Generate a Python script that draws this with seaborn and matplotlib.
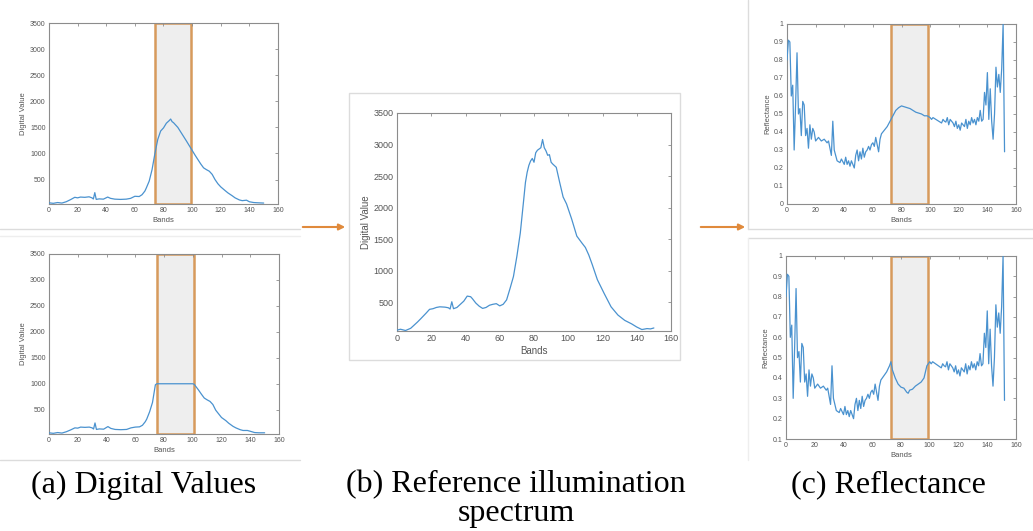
import numpy as np
import pandas as pd
import matplotlib
matplotlib.use("Agg")
import matplotlib.pyplot as plt
import seaborn as sns
from matplotlib.lines import Line2D
from matplotlib.patches import Rectangle

# ---------------- data ----------------
ref_bands = [0, 2, 5, 8, 10, 12, 14, 17, 19, 21, 23, 25, 28, 30, 31, 32, 33, 35, 37, 39,
             41, 43, 44, 46, 48, 50, 52, 54, 56, 58, 60, 62, 64, 66, 68, 70, 72, 74, 75, 76,
             77, 78, 79, 80, 81, 82, 83, 84, 85, 86, 87, 88, 89, 90, 91, 93, 95, 97, 99, 102,
             105, 108, 110, 112, 114, 117, 121, 125, 129, 133, 137, 140, 143, 146, 148, 150]
ref_values = [60, 75, 55, 90, 140, 190, 245, 330, 390, 400, 420, 430, 425, 415, 395, 510, 400, 420, 470, 520,
              600, 590, 560, 490, 440, 405, 420, 455, 470, 480, 445, 470, 540, 720, 910, 1230, 1600, 2130, 2400, 2560,
              2670, 2740, 2780, 2720, 2870, 2910, 2930, 2950, 3080, 2950, 2900, 2830, 2840, 2720, 2690, 2640, 2400, 2170, 2060, 1820,
              1550, 1440, 1370, 1250, 1100, 860, 640, 430, 300, 215, 160, 110, 70, 85, 80, 95]

dv_top_bands = [0, 3, 6, 9, 12, 15, 18, 20, 22, 25, 28, 30, 31, 32, 33, 35, 38, 41, 43, 46,
                50, 54, 57, 60, 63, 65, 67, 68, 70, 72, 74, 76, 78, 80, 82, 84, 85, 86, 87, 88,
                90, 93, 96, 100, 102, 104, 106, 108, 110, 112, 114, 116, 118, 120, 123, 125, 128, 130, 133, 135,
                138, 140, 143, 146, 150]
dv_top_values = [55, 45, 60, 50, 75, 115, 160, 150, 165, 160, 170, 150, 128, 250, 120, 130, 125, 165, 140, 125,
                 120, 125, 140, 180, 175, 210, 280, 340, 470, 690, 1000, 1270, 1430, 1490, 1580, 1630, 1660, 1610, 1590, 1560,
                 1500, 1370, 1240, 1060, 970, 885, 800, 725, 690, 660, 600, 500, 420, 360, 290, 245, 190, 150, 110, 96,
                 105, 75, 60, 55, 50]

dv_bot_bands = [0, 3, 6, 9, 12, 15, 18, 20, 22, 25, 28, 30, 31, 32, 33, 35, 38, 41, 43, 46,
                50, 54, 57, 60, 63, 65, 67, 68, 70, 72, 74, 75, 100, 101, 104, 106, 108, 110, 112, 114,
                116, 118, 120, 123, 125, 128, 130, 133, 135, 138, 140, 143, 146, 150]
dv_bot_values = [55, 45, 60, 50, 75, 110, 150, 145, 165, 160, 165, 150, 128, 245, 120, 130, 125, 175, 140, 120,
                 115, 120, 150, 165, 170, 200, 270, 320, 460, 640, 980, 1000, 1000, 990, 880, 800, 725, 690, 660, 600,
                 490, 420, 350, 290, 240, 180, 150, 115, 100, 100, 85, 60, 55, 55]

refl_top_bands = list(range(0, 20)) + [20, 22, 24, 26, 28, 29, 31, 32, 33, 35, 37, 38] + list(range(40, 69)) + \
                 [70, 72, 74, 76, 78, 80, 82, 84, 86, 88, 90, 92, 94, 96, 98, 100] + list(range(101, 153))
refl_top_values = [0.80, 0.91, 0.90, 0.60, 0.66, 0.30, 0.55, 0.84, 0.50, 0.53,
                   0.38, 0.57, 0.55, 0.38, 0.42, 0.31, 0.44, 0.36, 0.42, 0.40,
                   0.35, 0.37, 0.35, 0.36, 0.34, 0.35, 0.27, 0.46, 0.30, 0.24, 0.23, 0.25,
                   0.22, 0.26, 0.22, 0.24, 0.21, 0.24, 0.22, 0.20, 0.27, 0.30,
                   0.24, 0.29, 0.25, 0.31, 0.26, 0.29, 0.30, 0.32, 0.30, 0.33,
                   0.34, 0.32, 0.37, 0.33, 0.29, 0.36, 0.39, 0.40, 0.41,
                   0.43, 0.46, 0.49, 0.52, 0.535, 0.545, 0.54, 0.535, 0.53, 0.52, 0.51, 0.505, 0.50, 0.49, 0.49, 0.48,
                   0.47, 0.48, 0.475, 0.47, 0.465, 0.46, 0.455, 0.45, 0.47, 0.46,
                   0.455, 0.48, 0.44, 0.47, 0.46, 0.45, 0.43, 0.46, 0.42, 0.44,
                   0.41, 0.45, 0.44, 0.43, 0.47, 0.42, 0.46, 0.44, 0.48, 0.45,
                   0.47, 0.44, 0.48, 0.46, 0.52, 0.46, 0.47, 0.62, 0.55, 0.73,
                   0.47, 0.64, 0.46, 0.36, 0.50, 0.76, 0.65, 0.72, 0.62, 0.75,
                   1.00, 0.29]

refl_bot_bands = list(range(0, 20)) + [20, 22, 24, 26, 28, 29, 31, 32, 33, 35, 37, 38] + list(range(40, 69)) + \
                 [70, 72, 73, 74, 76, 78, 80, 82, 84, 85, 86, 88, 90, 92, 94, 96, 97, 98, 99, 100] + list(range(101, 153))
refl_bot_values = refl_top_values[:61] + \
                  [0.43, 0.46, 0.48, 0.44, 0.40, 0.37, 0.355, 0.35, 0.33, 0.325, 0.34, 0.345, 0.36, 0.37, 0.38, 0.40,
                   0.43, 0.46, 0.47, 0.48] + refl_top_values[77:]

x_ticks = [0, 20, 40, 60, 80, 100, 120, 140, 160]
dv_ticks = [500, 1000, 1500, 2000, 2500, 3000, 3500]
refl_top_ticks = [0, 0.1, 0.2, 0.3, 0.4, 0.5, 0.6, 0.7, 0.8, 0.9, 1]
refl_top_labels = ["0", "0.1", "0.2", "0.3", "0.4", "0.5", "0.6", "0.7", "0.8", "0.9", "1"]
refl_bot_ticks = [0.1, 0.2, 0.3, 0.4, 0.5, 0.6, 0.7, 0.8, 0.9, 1]
refl_bot_labels = ["0.1", "0.2", "0.3", "0.4", "0.5", "0.6", "0.7", "0.8", "0.9", "1"]

captions = ["(a) Digital Values", "(b) Reference illumination\nspectrum", "(c) Reflectance"]

# ---------------- styling ----------------
sns.set_style("white")
plt.rcParams["font.family"] = ["Liberation Sans", "DejaVu Sans"]

W, H = 1033, 531
fig = plt.figure(figsize=(W / 100, H / 100), dpi=100)
fig.patch.set_facecolor("white")

LINE = "#4a92cf"
BOX_EDGE = "#d79a5c"
BOX_FILL = "#eeeeee"
SPINE = "#8c8c8c"
TXT = "#555555"
FRAME = "#dcdcdc"
ARROW = "#e08a3c"


def rect(l, t, r, b):
    return [l / W, 1 - b / H, (r - l) / W, (b - t) / H]


def style_axes(ax, fs, ylab, yticks, ylabels, ylim):
    ax.set_xlim(0, 160)
    ax.set_ylim(*ylim)
    ax.set_xticks(x_ticks)
    ax.set_xticklabels([str(v) for v in x_ticks])
    ax.set_yticks(yticks)
    ax.set_yticklabels(ylabels)
    ax.tick_params(direction="in", top=True, right=True, length=2.5, width=0.6,
                   color=SPINE, labelsize=fs, labelcolor=TXT, pad=2.5)
    for s in ax.spines.values():
        s.set_color(SPINE)
        s.set_linewidth(0.8)
    ax.set_xlabel("Bands", fontsize=fs + 0.5, color=TXT, labelpad=1.5)
    ax.set_ylabel(ylab, fontsize=fs + 0.5, color=TXT, labelpad=2)
    ax.set_facecolor("white")


def draw(ax, bands, values, span):
    if span is not None:
        ax.axvspan(span[0], span[1], facecolor=BOX_FILL, edgecolor=BOX_EDGE, lw=1.8, zorder=0.5)
    df = pd.DataFrame({"Bands": bands, "v": values})
    sns.lineplot(data=df, x="Bands", y="v", ax=ax, color=LINE, lw=0.9, zorder=3)


# left top
ax1 = fig.add_axes(rect(49, 23, 278, 204))
draw(ax1, dv_top_bands, dv_top_values, (74, 99.5))
style_axes(ax1, 5, "Digital Value", dv_ticks, [str(v) for v in dv_ticks], (32, 3500))

# left bottom
ax2 = fig.add_axes(rect(49, 254, 279, 434))
draw(ax2, dv_bot_bands, dv_bot_values, (75, 100.8))
style_axes(ax2, 5, "Digital Value", dv_ticks, [str(v) for v in dv_ticks], (32, 3500))

# center
ax3 = fig.add_axes(rect(397, 113, 671, 331))
draw(ax3, ref_bands, ref_values, None)
style_axes(ax3, 6.5, "Digital Value", dv_ticks, [str(v) for v in dv_ticks], (47, 3500))

# right top
ax4 = fig.add_axes(rect(787, 24, 1016, 204))
draw(ax4, refl_top_bands, refl_top_values, (72.8, 98.8))
style_axes(ax4, 5, "Reflectance", refl_top_ticks, refl_top_labels, (0, 1))

# right bottom
ax5 = fig.add_axes(rect(786, 256, 1016, 439))
draw(ax5, refl_bot_bands, refl_bot_values, (73, 98.8))
style_axes(ax5, 5, "Reflectance", refl_bot_ticks, refl_bot_labels, (0.1, 1))


# ---------------- screenshot frames, arrows, captions ----------------
def fline(x0, y0, x1, y1, c=FRAME, lw=1.0):
    fig.add_artist(Line2D([x0 / W, x1 / W], [1 - y0 / H, 1 - y1 / H], color=c, lw=lw,
                          transform=fig.transFigure))


fline(0, 229, 300, 229)
fline(0, 236, 300, 236, c="#eeeeee")
fline(0, 460, 300, 460)
fline(748, 0, 748, 229)
fline(748, 229, 1033, 229)
fline(748, 238, 1033, 238)
fline(748, 238, 748, 460, c="#eeeeee")
fig.add_artist(Rectangle((349 / W, 1 - 360 / H), (680 - 349) / W, (360 - 93) / H,
                         fill=False, edgecolor=FRAME, lw=1.0, transform=fig.transFigure))

for (xa, xb) in [(300, 348), (698, 748)]:
    fig.add_artist(matplotlib.patches.FancyArrowPatch(
        (xa / W, 1 - 227 / H), (xb / W, 1 - 227 / H), transform=fig.transFigure,
        arrowstyle="-|>", mutation_scale=9, color=ARROW, lw=1.5))

cap_font = ["Liberation Serif", "DejaVu Serif"]
fig.text(144 / W, 1 - 485 / H, captions[0], ha="center", va="center", fontsize=23, family=cap_font,
         color="black")
fig.text(516 / W, 1 - 499 / H, captions[1], ha="center", va="center", fontsize=23, family=cap_font,
         linespacing=0.95, color="black")
fig.text(888 / W, 1 - 485 / H, captions[2], ha="center", va="center", fontsize=23, family=cap_font,
         color="black")

fig.savefig("out.png", dpi=100, facecolor="white")
